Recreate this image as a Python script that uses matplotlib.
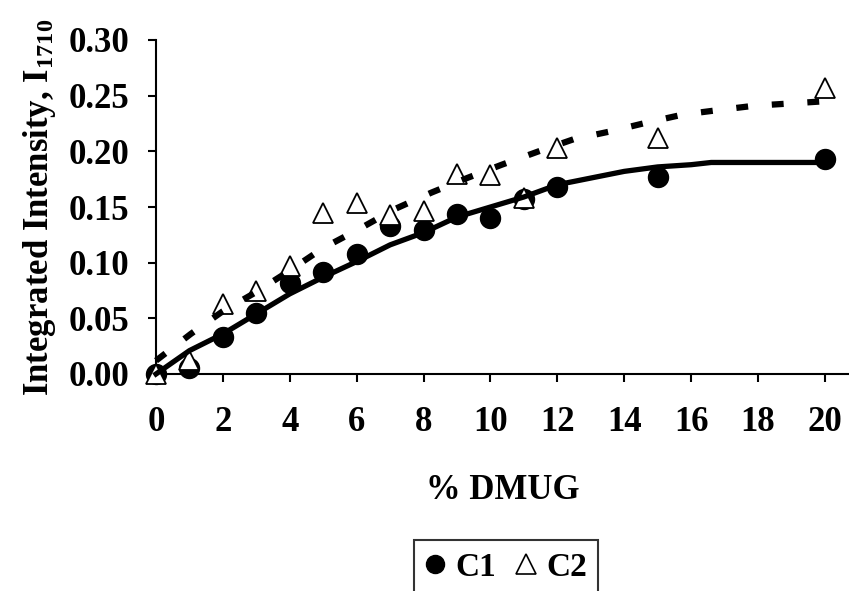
import matplotlib
matplotlib.use("Agg")
import matplotlib.pyplot as plt
from matplotlib.lines import Line2D

plt.rcParams['font.family'] = ['Liberation Serif', 'DejaVu Serif']
plt.rcParams['font.weight'] = 'bold'
plt.rcParams['mathtext.fontset'] = 'custom'
plt.rcParams['mathtext.rm'] = 'Liberation Serif:bold'
plt.rcParams['mathtext.bf'] = 'Liberation Serif:bold'
plt.rcParams['mathtext.it'] = 'Liberation Serif:bold'

# data
dmug = [0, 1, 2, 3, 4, 5, 6, 7, 8, 9, 10, 11, 12, 15, 20]
c1 = [0.000, 0.005, 0.033, 0.055, 0.082, 0.092, 0.108, 0.133, 0.129, 0.144, 0.140, 0.157, 0.168, 0.177, 0.193]
c2 = [0.000, 0.013, 0.063, 0.075, 0.097, 0.145, 0.154, 0.143, 0.146, 0.180, 0.179, 0.158, 0.203, 0.212, 0.257]

# trend lines
fit1_x = [0, 1, 2, 3, 4, 5, 6, 7, 8, 9, 10, 11, 12, 13, 14, 15, 16, 16.6, 20]
fit1_y = [0.000, 0.021, 0.036, 0.054, 0.072, 0.087, 0.101, 0.116, 0.127, 0.141, 0.150, 0.159,
          0.170, 0.176, 0.182, 0.186, 0.188, 0.190, 0.190]
fit2_x = [0, 1.04, 1.98, 2.96, 3.9, 4.99, 6.06, 7.13, 8.24, 9.3, 10.34, 11.44, 12.5, 13.6,
          14.7, 15.75, 16.8, 17.9, 18.97, 20]
fit2_y = [0.012, 0.036, 0.056, 0.073, 0.091, 0.113, 0.130, 0.148, 0.163, 0.176, 0.188, 0.200,
          0.211, 0.218, 0.226, 0.233, 0.237, 0.241, 0.243, 0.245]

xticks = [0, 2, 4, 6, 8, 10, 12, 14, 16, 18, 20]
yticks = [0.00, 0.05, 0.10, 0.15, 0.20, 0.25, 0.30]

fig = plt.figure(figsize=(8.49, 5.91), dpi=100)
ax = fig.add_axes([156/849, 1-374/591, 1-156/849, (374-40)/591])

ax.plot(dmug, c1, 'o', color='black', ms=14.4, clip_on=False, zorder=3)
ax.plot(dmug, c2, '^', mfc='white', mec='black', mew=1.3, ms=14.4, clip_on=False, zorder=4)
ax.plot(fit1_x, fit1_y, '-', color='black', lw=3.8, zorder=5, clip_on=False)
ax.plot(fit2_x, fit2_y, color='black', lw=4.5, dashes=(1.9, 3.8), dash_capstyle='butt',
        zorder=6, clip_on=False)

ax.set_xlim(0, 20.72)
ax.set_ylim(0, 0.30)
ax.set_xticks(xticks)
ax.set_yticks(yticks)
ax.set_xticklabels([str(t) for t in xticks])
ax.set_yticklabels([f"{t:.2f}" for t in yticks])
for s in ['top', 'right']:
    ax.spines[s].set_visible(False)
for s in ['left', 'bottom']:
    ax.spines[s].set_linewidth(1.5)
ax.tick_params(axis='both', direction='out', length=6, width=1.5, labelsize=25)
ax.tick_params(axis='y', pad=13)
ax.tick_params(axis='x', pad=17)

ax.set_xlabel('% DMUG', fontsize=25, fontweight='bold', labelpad=25)
ax.set_ylabel(r'Integrated Intensity, I$_{1710}$', fontsize=25, fontweight='bold', labelpad=8)

handles = [Line2D([], [], ls='none', marker='o', color='black', ms=13),
           Line2D([], [], ls='none', marker='^', mfc='white', mec='black', mew=1.2, ms=14)]
leg = fig.legend(handles, ['C1', 'C2'], loc='upper center', bbox_to_anchor=(506/849, 1-540/591),
                 ncol=2, frameon=True, fancybox=False, fontsize=24, handlelength=0.6,
                 handletextpad=0.3, columnspacing=0.6, borderpad=0.35, borderaxespad=0)
leg.get_frame().set_edgecolor('black')
leg.get_frame().set_linewidth(1.5)

fig.savefig('out.png', dpi=100)
